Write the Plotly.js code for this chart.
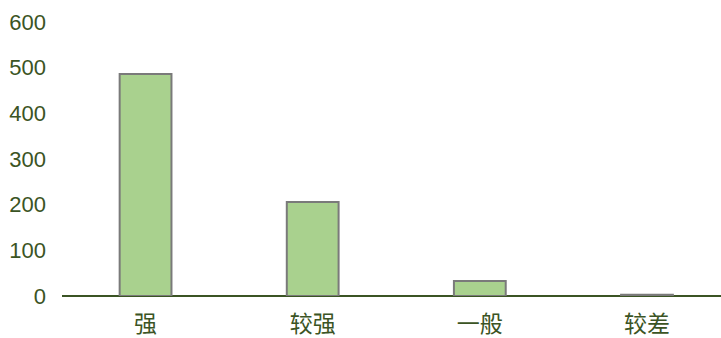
<!DOCTYPE html>
<html><head><meta charset="utf-8">
<script src="https://cdn.plot.ly/plotly-3.0.1.min.js"></script>
<style>html,body{margin:0;padding:0;background:#fff;}#chart{width:721px;height:338px;}</style>
</head><body><div id="chart"></div>
<script>
const categories = ["强", "较强", "一般", "较差"];
const values = [486, 206, 33, 3];
const yTicks = [0, 100, 200, 300, 400, 500, 600];

const textColor = "#3b5424";
const trace = {
  type: "bar",
  x: categories,
  y: values,
  width: 0.31,
  marker: {color: "#a9d18e", line: {color: "#7a7a7a", width: 2}},
  hoverinfo: "none"
};
const layout = {
  width: 721, height: 338,
  margin: {l: 62, r: 0, t: 22, b: 42},
  paper_bgcolor: "#fff", plot_bgcolor: "#fff",
  showlegend: false,
  font: {family: "Liberation Sans, Noto Sans CJK SC, sans-serif", color: textColor, size: 22},
  xaxis: {
    range: [-0.5, 3.443],
    showgrid: false, zeroline: false,
    showline: false, ticks: "", ticklabelstandoff: 12,
    tickfont: {family: "Noto Sans CJK SC, sans-serif", size: 23, color: textColor}
  },
  yaxis: {
    range: [0, 600],
    tickvals: yTicks, ticktext: yTicks.map(String),
    showgrid: false, zeroline: true, zerolinecolor: "#3b5424", zerolinewidth: 2,
    showline: false, ticks: "", ticklabelstandoff: 15,
    tickfont: {family: "Liberation Sans, sans-serif", size: 22, color: textColor}
  }
};
Plotly.newPlot("chart", [trace], layout, {displayModeBar: false, staticPlot: true});
</script></body></html>
